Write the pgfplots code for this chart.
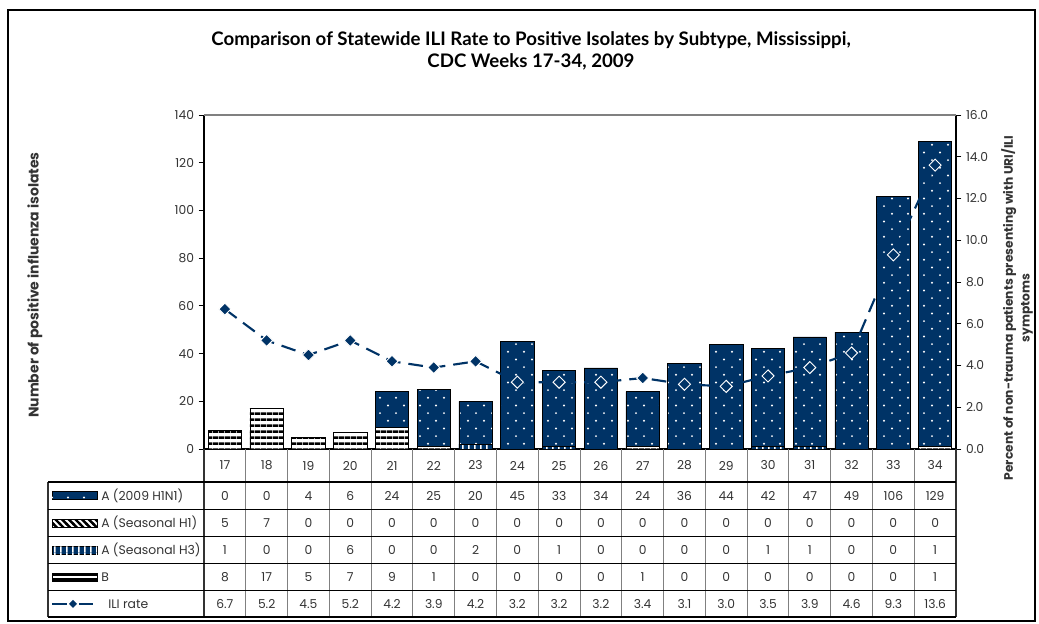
\documentclass[border=0pt]{standalone}
\usepackage{fontspec}
\setmainfont{Poppins}
\newfontfamily\titlefont{Lato}
\usepackage{pgfplots}
\pgfplotsset{compat=1.18}
\usepackage{pgfplotstable}
\usetikzlibrary{patterns}

\definecolor{navy}{RGB}{0,51,102}
\definecolor{txt}{RGB}{51,51,51}

\pgfdeclarepatternformonly{wdots}{\pgfqpoint{-1pt}{-1pt}}{\pgfqpoint{13pt}{13pt}}{\pgfqpoint{12pt}{11.5pt}}{%
 \pgfpathcircle{\pgfqpoint{3pt}{2.9pt}}{0.8pt}%
 \pgfpathcircle{\pgfqpoint{9pt}{8.65pt}}{0.8pt}%
 \pgfusepath{fill}}
\pgfdeclarepatternformonly{hstripes}{\pgfqpoint{0pt}{0pt}}{\pgfqpoint{4.2pt}{4.2pt}}{\pgfqpoint{4.2pt}{4.2pt}}{%
 \pgfpathrectangle{\pgfqpoint{-0.1pt}{0pt}}{\pgfqpoint{4.4pt}{2.1pt}}\pgfusepath{fill}}
\pgfdeclarepatternformonly{vstripes}{\pgfqpoint{0pt}{0pt}}{\pgfqpoint{4.5pt}{4.5pt}}{\pgfqpoint{4.5pt}{4.5pt}}{%
 \pgfpathrectangle{\pgfqpoint{0pt}{-0.1pt}}{\pgfqpoint{1.4pt}{4.7pt}}\pgfusepath{fill}}
\pgfdeclarepatternformonly{dstripes}{\pgfqpoint{-1pt}{-1pt}}{\pgfqpoint{6pt}{6pt}}{\pgfqpoint{5pt}{5pt}}{%
 \pgfsetlinewidth{1.8pt}%
 \pgfpathmoveto{\pgfqpoint{-0.5pt}{5.5pt}}\pgfpathlineto{\pgfqpoint{5.5pt}{-0.5pt}}%
 \pgfusepath{stroke}}

\pgfplotstableread{
week x h1n1 h1 h3 b ili
17 0 0 5 1 8 6.7
18 1 0 7 0 17 5.2
19 2 4 0 0 5 4.5
20 3 6 0 6 7 5.2
21 4 24 0 0 9 4.2
22 5 25 0 0 1 3.9
23 6 20 0 2 0 4.2
24 7 45 0 0 0 3.2
25 8 33 0 1 0 3.2
26 9 34 0 0 0 3.2
27 10 24 0 0 1 3.4
28 11 36 0 0 0 3.1
29 12 44 0 0 0 3.0
30 13 42 0 1 0 3.5
31 14 47 0 1 0 3.9
32 15 49 0 0 0 4.6
33 16 106 0 0 0 9.3
34 17 129 0 1 1 13.6
}\data

\newcommand\numfont{\fontsize{9.2}{11}\selectfont}

\pgfplotsset{
  common/.style={
    at={(153pt,-336.75pt)}, anchor=south west,
    scale only axis, width=564pt, height=250.5pt,
    xmin=-0.5, xmax=17.5, clip=false,
    tick align=outside, major tick length=4pt,
    tick style={black, line width=0.6pt},
    axis line style={black, line width=0.8pt, -},
    yticklabel style={font=\numfont, text=txt},
    /pgf/number format/assume math mode=true,
  },
  barsty/.style={ybar, bar width=0.8, bar shift=0pt, draw=black, line width=0.5pt},
}

\begin{document}
\begin{tikzpicture}
\begin{axis}[common,
  ymin=0, ymax=140, ytick={0,20,...,140}, xtick=\empty,
  axis x line*=bottom, axis y line*=left,
]
\addplot[barsty, fill=navy, postaction={pattern=wdots, pattern color=white}] table[x=x, y=h1n1] {\data};
\addplot[barsty, fill=white, postaction={pattern=dstripes, pattern color=black}] table[x=x, y=h1] {\data};
\addplot[barsty, fill=navy, postaction={pattern=vstripes, pattern color=white}] table[x=x, y=h3] {\data};
\addplot[barsty, fill=white, postaction={pattern=hstripes, pattern color=black}] table[x=x, y=b] {\data};
\end{axis}

\begin{axis}[common,
  ymin=0, ymax=16, ytick={0,2,...,16},
  axis y line*=right, axis x line=none,
  yticklabel style={/pgf/number format/.cd, fixed, fixed zerofill, precision=1},
]
\addplot[navy, line width=1.6pt, dash pattern=on 11pt off 6pt,
  mark=square*, mark size=3.2pt,
  mark options={solid, rotate=45, fill=navy, draw=white, line width=0.7pt}]
  table[x=x, y=ili] {\data};
\end{axis}

\begin{axis}[at={(153pt,-462.75pt)}, anchor=south west,
  scale only axis, width=564pt, height=126pt,
  xmin=-0.5, xmax=17.5, ymin=0, ymax=168, hide axis, clip=false,
  every node near coord/.append style={anchor=center, font=\numfont, text=txt},
]
\addplot[draw=none, mark=none, nodes near coords, point meta=explicit symbolic] table[x=x, y expr=151.5, meta=week] {\data};
\addplot[draw=none, mark=none, nodes near coords, point meta=explicit symbolic] table[x=x, y expr=121.25, meta=h1n1] {\data};
\addplot[draw=none, mark=none, nodes near coords, point meta=explicit symbolic] table[x=x, y expr=94, meta=h1] {\data};
\addplot[draw=none, mark=none, nodes near coords, point meta=explicit symbolic] table[x=x, y expr=67, meta=h3] {\data};
\addplot[draw=none, mark=none, nodes near coords, point meta=explicit symbolic] table[x=x, y expr=40, meta=b] {\data};
\addplot[draw=none, mark=none, nodes near coords, point meta=explicit symbolic] table[x=x, y expr=13.25, meta=ili] {\data};
\end{axis}

\begin{scope}[x=0.75pt, y=-0.75pt]
 \useasboundingbox (0,0) rectangle (1039,624);
 \draw[black, line width=0.9pt] (8,10) rectangle (1035,621);
 % title
 \node[font=\titlefont\bfseries\fontsize{14}{16}\selectfont, text=black] at (531,40) {Comparison of Statewide ILI Rate to Positive Isolates by Subtype, Mississippi,};
 \node[font=\titlefont\bfseries\fontsize{14}{16}\selectfont, text=black] at (531,62) {CDC Weeks 17-34, 2009};
 % axis labels
 \node[rotate=90, font=\bfseries\fontsize{10.5}{11}\selectfont, text=txt] at (35,285) {Number of positive influenza isolates};
 \node[rotate=90, align=center, font=\bfseries\fontsize{9.2}{12.5}\selectfont, text=txt] at (1017,308) {Percent of non-trauma patients presenting with URI/ILI\\symptoms};
 % top border of plot area
 \draw[gray, line width=0.8pt] (204,115) -- (956,115);
 % table grid
 \foreach \i in {1,...,17} \draw[gray, line width=0.75pt] ({204+41.7778*\i},449) -- ({204+41.7778*\i},617);
 \draw[black!80, line width=0.8pt] (204,449) -- (204,617);
 \draw[black!80, line width=0.8pt] (956,449) -- (956,617);
 \draw[black!80, line width=0.8pt] (48,482) -- (48,617);
 \foreach \y in {482,509.5,536.5,563.5,590.5,617} \draw[black, line width=0.8pt] (48,\y) -- (956,\y);
 % legend keys
 \filldraw[draw=black, fill=navy, line width=0.5pt, postaction={pattern=wdots, pattern color=white}] (52,491.75) rectangle (97,499.75);
 \filldraw[draw=black, fill=white, line width=0.5pt, postaction={pattern=dstripes, pattern color=black}] (52,519) rectangle (97,527);
 \filldraw[draw=black, fill=navy, line width=0.5pt, postaction={pattern=vstripes, pattern color=white}] (52,546) rectangle (97,554);
 \filldraw[draw=black, fill=black, line width=0.5pt] (52,573) rectangle (97,581);
 \fill[white] (52.5,576.3) rectangle (96.5,577.7);
 \draw[navy, line width=1.6pt] (52,603.75) -- (67,603.75);
 \draw[navy, line width=1.6pt] (79,603.75) -- (93,603.75);
 \fill[navy] (73,599.75) -- (77,603.75) -- (73,607.75) -- (69,603.75) -- cycle;
 \begin{scope}[font=\fontsize{9.3}{11}\selectfont, text=txt]
  \node[anchor=west, inner sep=0pt] at (101,495.75) {A (2009 H1N1)};
  \node[anchor=west, inner sep=0pt] at (101,523) {A (Seasonal H1)};
  \node[anchor=west, inner sep=0pt] at (101,550) {A (Seasonal H3)};
  \node[anchor=west, inner sep=0pt] at (101,577) {B};
  \node[anchor=west, inner sep=0pt] at (108,603.75) {ILI rate};
 \end{scope}
\end{scope}
\end{tikzpicture}
\end{document}
